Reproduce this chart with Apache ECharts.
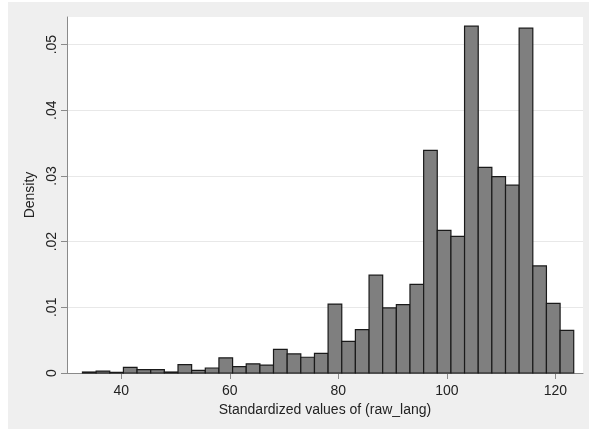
<!DOCTYPE html>
<html>
<head>
<meta charset="utf-8">
<script src="https://cdn.jsdelivr.net/npm/echarts@6/dist/echarts.min.js"></script>
<style>
  html, body { margin: 0; padding: 0; background: #fff; }
  #chart { width: 589px; height: 429px; }
</style>
</head>
<body>
<div id="chart"></div>
<script>
// histogram bin edges (37 edges -> 36 bins) and density per bin
const binEdges = [
  32.85, 35.37, 37.88, 40.40, 42.91, 45.43, 47.94, 50.46, 52.97, 55.49,
  58.00, 60.52, 63.03, 65.55, 68.06, 70.58, 73.09, 75.61, 78.12, 80.64,
  83.15, 85.67, 88.18, 90.70, 93.21, 95.73, 98.24, 100.76, 103.27, 105.79,
  108.30, 110.82, 113.33, 115.85, 118.36, 120.88, 123.39,
];
const density = [
  0.00015, 0.0003, 0.0001, 0.00085, 0.0005, 0.0005, 0.00015, 0.00127, 0.0004, 0.00076,
  0.0023, 0.00097, 0.0014, 0.0012, 0.0036, 0.0029, 0.0024, 0.003, 0.0105, 0.0048,
  0.0066, 0.0149, 0.0099, 0.0104, 0.0135, 0.0339, 0.0217, 0.0208, 0.0528, 0.0313,
  0.0299, 0.0286, 0.0525, 0.0163, 0.0106, 0.0065,
];
const xTicks = [40, 60, 80, 100, 120];
const yTicks = [0, 0.01, 0.02, 0.03, 0.04, 0.05];

const bins = density.map((d, i) => [binEdges[i], binEdges[i + 1], d]);

const chart = echarts.init(document.getElementById('chart'), null, { renderer: 'canvas' });
const font = 'Liberation Sans, Arial, sans-serif';

chart.setOption({
  animation: false,
  backgroundColor: '#ffffff',
  graphic: [{
    type: 'rect',
    z: -10,
    silent: true,
    shape: { x: 8, y: 2, width: 589, height: 429 },
    style: { fill: '#efefef' },
  }],
  grid: {
    left: 67,
    right: 6,
    top: 17,
    bottom: 56,
    show: true,
    backgroundColor: '#ffffff',
    borderWidth: 0,
  },
  xAxis: {
    type: 'value',
    min: 30,
    max: 125.1,
    name: 'Standardized values of (raw_lang)',
    nameLocation: 'middle',
    nameGap: 24,
    nameTextStyle: { fontFamily: font, fontSize: 14, color: '#222' },
    axisLine: { show: true, onZero: false, lineStyle: { color: '#8a8a8a', width: 1 } },
    axisTick: { show: true, length: 6, customValues: xTicks, lineStyle: { color: '#8a8a8a' } },
    axisLabel: {
      customValues: xTicks,
      margin: 11,
      fontFamily: font,
      fontSize: 14,
      color: '#222',
    },
    splitLine: { show: false },
  },
  yAxis: {
    type: 'value',
    min: 0,
    max: 0.0542,
    interval: 0.01,
    name: 'Density',
    nameLocation: 'middle',
    nameGap: 30,
    nameRotate: 90,
    nameTextStyle: { fontFamily: font, fontSize: 14, color: '#222' },
    axisLine: { show: true, lineStyle: { color: '#8a8a8a', width: 1 } },
    axisTick: { show: true, length: 6, customValues: yTicks, lineStyle: { color: '#8a8a8a' } },
    axisLabel: {
      customValues: yTicks,
      rotate: 90,
      margin: 8,
      fontFamily: font,
      fontSize: 14,
      color: '#222',
      formatter: (v) => (v === 0 ? '0' : v.toFixed(2).replace(/^0/, '')),
    },
    splitLine: { show: true, lineStyle: { color: '#e8e8e8', width: 1 } },
  },
  series: [{
    type: 'custom',
    data: bins,
    encode: { x: [0, 1], y: 2 },
    renderItem: (params, api) => {
      const p0 = api.coord([api.value(0), 0]);
      const p1 = api.coord([api.value(1), api.value(2)]);
      return {
        type: 'rect',
        shape: { x: p0[0], y: p1[1], width: p1[0] - p0[0], height: p0[1] - p1[1] },
        style: { fill: '#7f7f7f', stroke: '#1a1a1a', lineWidth: 1.2 },
      };
    },
  }],
});
</script>
</body>
</html>
